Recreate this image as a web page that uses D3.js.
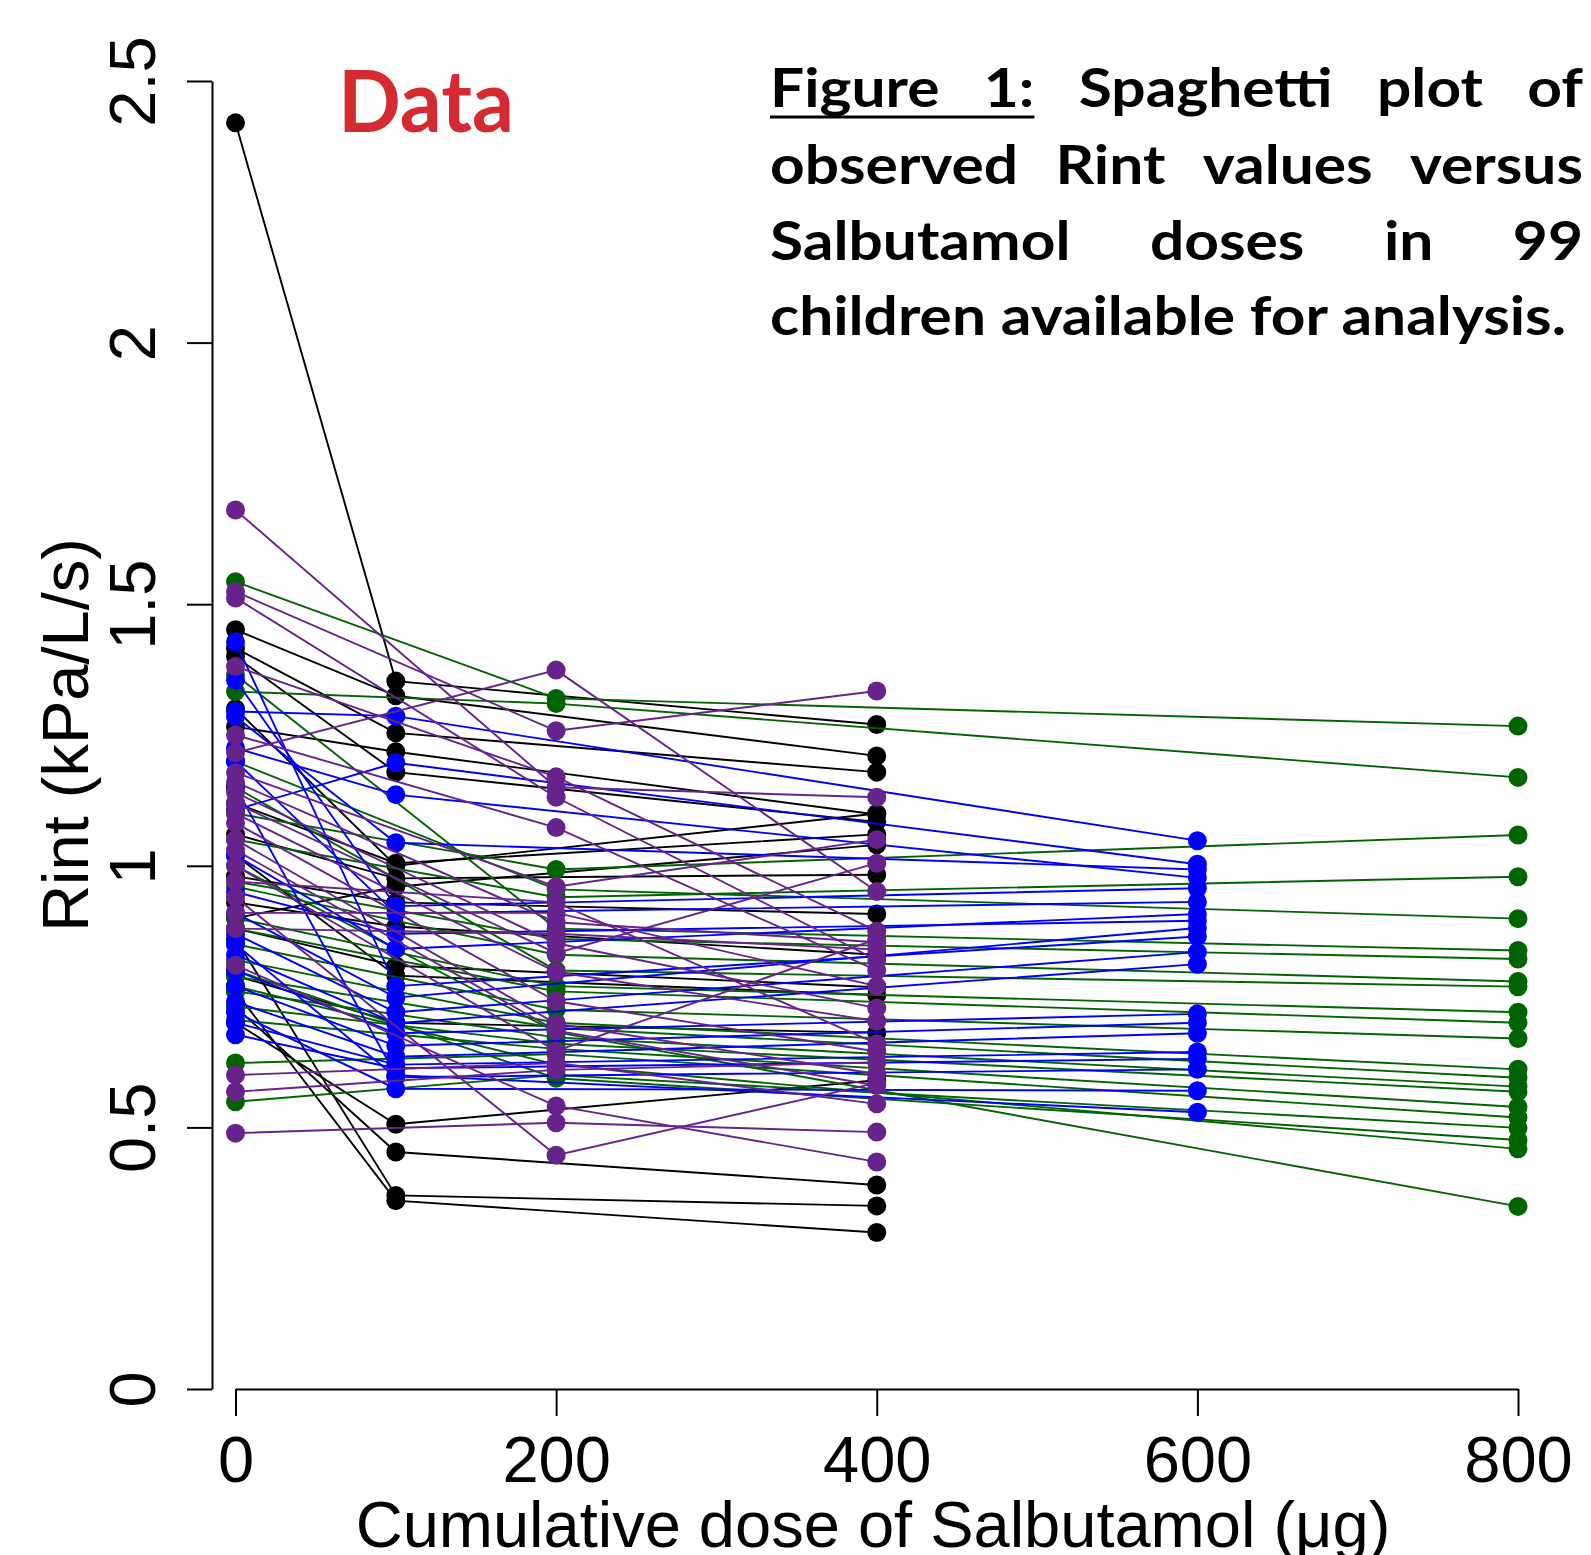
<!DOCTYPE html>
<html>
<head>
<meta charset="utf-8">
<script src="https://cdn.jsdelivr.net/npm/d3@7"></script>
<style>
  body { margin: 0; background: #fff; }
  svg { display: block; }
</style>
</head>
<body>
<svg id="chart" width="1591" height="1555"></svg>
<script>
// axis ticks
const xTicks = [0, 200, 400, 600, 800];
const yTicks = [0, 0.5, 1, 1.5, 2, 2.5];
const yTickLabels = ["0", "0.5", "1", "1.5", "2", "2.5"];

// one row per child: Rint at each dose of its schedule
const blackDoses = [0, 100, 400];
const blackRint = [
    [2.42, 1.353, 1.270], [1.451, 1.325, 1.210], [1.416, 1.254, 1.179], [1.266, 1.218, 1.098],
    [1.40, 1.179, 1.084], [1.12, 1.005, 1.060], [1.06, 0.976, 0.983], [0.98, 0.930, 0.908],
    [0.93, 0.884, 0.830], [0.88, 0.809, 0.768], [1.02, 0.790, 0.753], [0.79, 0.700, 0.681],
    [0.70, 0.506, 0.590], [0.73, 0.453, 0.390], [0.86, 0.370, 0.350], [0.76, 0.360, 0.299],
    [1.30, 1.000, 1.100], [0.90, 0.960, 1.040]
];

const greenDoses = [0, 200, 800];
const greenRint = [
    [1.543, 1.320, 1.267], [1.333, 1.310, 1.169], [1.100, 0.993, 1.059], [1.050, 0.940, 0.979],
    [1.199, 0.955, 0.899], [1.365, 0.880, 0.838], [0.970, 0.860, 0.822], [0.960, 0.830, 0.779],
    [1.150, 0.800, 0.769], [0.900, 0.770, 0.720], [0.880, 0.760, 0.700], [0.850, 0.725, 0.670],
    [0.820, 0.700, 0.611], [0.788, 0.690, 0.595], [0.760, 0.672, 0.578], [0.731, 0.660, 0.568],
    [0.705, 0.650, 0.539], [1.000, 0.682, 0.349], [0.623, 0.640, 0.519], [0.549, 0.600, 0.499],
    [0.800, 0.594, 0.476], [0.770, 0.620, 0.459]
];

const blueDoses = [0, 100, 600];
const blueRint = [
    [1.428, 0.770, 0.865], [1.355, 0.923, 0.957], [1.295, 1.286, 1.048], [1.285, 1.044, 0.993],
    [1.225, 1.136, 0.977], [1.107, 1.197, 1.003], [1.200, 0.909, 0.931], [1.020, 0.841, 0.908],
    [0.950, 0.870, 0.895], [0.910, 0.748, 0.881], [0.870, 0.720, 0.835], [0.830, 0.699, 0.812],
    [0.800, 0.680, 0.717], [0.770, 0.656, 0.700], [0.740, 0.635, 0.680], [0.700, 0.620, 0.644],
    [0.677, 0.613, 0.631], [0.850, 0.596, 0.611], [0.720, 0.574, 0.570], [1.150, 0.600, 0.529]
];

const purpleDoses = [0, 200, 400];
const purpleRint = [
    [1.680, 1.150, 1.131], [1.524, 1.258, 1.334], [1.512, 1.131, 0.820], [1.216, 1.374, 0.951],
    [1.381, 1.170, 0.875], [1.250, 1.073, 0.800], [1.178, 0.960, 1.050], [1.160, 0.892, 0.854],
    [1.140, 0.852, 0.728], [1.120, 0.833, 1.005], [1.100, 0.797, 0.703], [1.082, 0.741, 0.645],
    [1.050, 0.698, 0.602], [1.030, 0.685, 0.580], [1.000, 0.646, 0.860], [0.970, 0.930, 0.660],
    [0.910, 0.910, 0.770], [0.880, 0.870, 0.840], [0.810, 0.541, 0.434], [0.940, 0.447, 0.585],
    [0.600, 0.623, 0.545], [0.568, 0.610, 0.624], [0.489, 0.509, 0.491]
];

const captionLines = [
    ["Figure", "1:", "Spaghetti", "plot", "of"],
    ["observed", "Rint", "values", "versus"],
    ["Salbutamol", "doses", "in", "99"],
    ["children available for analysis."]
];

const groups = [
    { color: "#000000", doses: blackDoses, rint: blackRint },
    { color: "#006400", doses: greenDoses, rint: greenRint },
    { color: "#0000ff", doses: blueDoses, rint: blueRint },
    { color: "#68228b", doses: purpleDoses, rint: purpleRint }
];

const svg = d3.select("#chart");

const x = d3.scaleLinear().domain([0, 800]).range([235.5, 1518]);
const y = d3.scaleLinear().domain([0, 2.5]).range([1389, 81]);

const axisFont = "'Liberation Sans', Arial, Helvetica, sans-serif";

// y axis (R style, detached)
const yAxis = svg.append("g")
    .attr("transform", "translate(212,0)")
    .call(d3.axisLeft(y).tickValues(yTicks).tickSize(25).tickSizeOuter(0)
        .tickFormat((d, i) => yTickLabels[i]));
yAxis.selectAll("text")
    .attr("x", null).attr("dy", null)
    .attr("transform", "translate(-57,0) rotate(-90)")
    .attr("text-anchor", "middle");

// x axis
const xAxis = svg.append("g")
    .attr("transform", "translate(0,1389)")
    .call(d3.axisBottom(x).tickValues(xTicks).tickSize(27).tickSizeOuter(0));
xAxis.selectAll("text").attr("y", 93).attr("dy", null);

svg.selectAll(".domain, .tick line").attr("stroke", "#000").attr("stroke-width", 2);
svg.selectAll(".tick text")
    .attr("fill", "#000")
    .style("font-family", axisFont)
    .style("font-size", "65px");

// axis titles
svg.append("text")
    .attr("x", 873).attr("y", 1547)
    .attr("text-anchor", "middle")
    .style("font-family", axisFont).style("font-size", "65px")
    .text("Cumulative dose of Salbutamol (\u03bcg)");

svg.append("text")
    .attr("transform", "translate(88,735) rotate(-90)")
    .attr("text-anchor", "middle")
    .style("font-family", axisFont).style("font-size", "65px")
    .text("Rint (kPa/L/s)");

// spaghetti
const line = d3.line().x(d => x(d[0])).y(d => y(d[1]));
const plot = svg.append("g");

groups.forEach(grp => {
    grp.rint.forEach(row => {
        const pts = row.map((v, i) => [grp.doses[i], v]);
        const g = plot.append("g");
        g.append("path")
            .attr("d", line(pts))
            .attr("fill", "none")
            .attr("stroke", grp.color)
            .attr("stroke-width", 1.9);
        g.selectAll("circle")
            .data(pts).enter()
            .append("circle")
            .attr("cx", d => x(d[0]))
            .attr("cy", d => y(d[1]))
            .attr("r", 9.5)
            .attr("fill", grp.color);
    });
});

// "Data" label
const capFont = "Lato, 'Open Sans', 'Noto Sans', sans-serif";
const dataLabel = svg.append("text")
    .attr("x", 338).attr("y", 132)
    .style("font-family", capFont).style("font-weight", 700).style("font-size", "86px")
    .attr("fill", "#d42a30")
    .text("Data");
dataLabel.attr("textLength", 176).attr("lengthAdjust", "spacingAndGlyphs");

// caption, justified
const capSize = 53, capLeft = 770, capRight = 1583, lastWidth = 796;
const baselines = [107, 184, 260, 335];
const cap = svg.append("g")
    .style("font-family", capFont).style("font-weight", 700).style("font-size", capSize + "px")
    .attr("fill", "#000");

function measure(str) {
    const t = cap.append("text").text(str);
    const w = t.node().getComputedTextLength();
    t.remove();
    return w;
}
const sx = lastWidth / measure(captionLines[3][0]);

captionLines.forEach((words, li) => {
    const yb = baselines[li];
    if (words.length === 1) {
        cap.append("text").attr("x", capLeft).attr("y", yb)
            .attr("textLength", lastWidth).attr("lengthAdjust", "spacingAndGlyphs")
            .text(words[0]);
        return;
    }
    const widths = words.map(w => measure(w) * sx);
    const gap = (capRight - capLeft - d3.sum(widths)) / (words.length - 1);
    let cx = capLeft;
    const xs = [];
    words.forEach((w, i) => {
        xs.push(cx);
        cap.append("text").attr("x", cx).attr("y", yb)
            .attr("textLength", widths[i]).attr("lengthAdjust", "spacingAndGlyphs")
            .text(w);
        cx += widths[i] + gap;
    });
    if (li === 0) {
        cap.append("line")
            .attr("x1", xs[0]).attr("x2", xs[1] + widths[1])
            .attr("y1", 117).attr("y2", 117)
            .attr("stroke", "#000").attr("stroke-width", 3);
    }
});
</script>
</body>
</html>
